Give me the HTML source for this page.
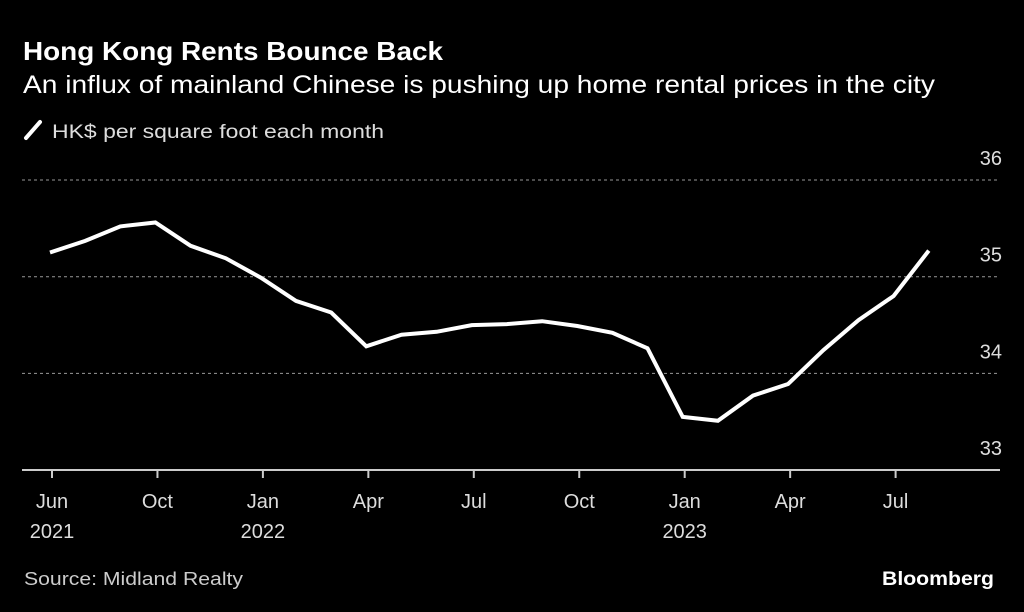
<!DOCTYPE html>
<html><head><meta charset="utf-8"><style>
html,body{margin:0;padding:0;background:#000;}
svg{display:block;font-family:"Liberation Sans",sans-serif;}
</style></head><body>
<svg width="1024" height="612" viewBox="0 0 1024 612">
<rect x="0" y="0" width="1024" height="612" fill="#000"/>
<text x="23" y="60" fill="#fff" font-size="26" font-weight="bold" textLength="420" lengthAdjust="spacingAndGlyphs">Hong Kong Rents Bounce Back</text>
<text x="23" y="93" fill="#fff" font-size="25" textLength="912" lengthAdjust="spacingAndGlyphs">An influx of mainland Chinese is pushing up home rental prices in the city</text>
<line x1="26" y1="138" x2="40" y2="122" stroke="#fff" stroke-width="4" stroke-linecap="round"/>
<text x="52" y="138" fill="#ddd" font-size="19" textLength="332" lengthAdjust="spacingAndGlyphs">HK$ per square foot each month</text>
<g id="grid"></g>
<g id="ylabels"></g>
<g id="xaxis"></g>
<path id="line" fill="none" stroke="#fff" stroke-width="4" stroke-linejoin="miter"/>
<text x="24" y="585" fill="#ccc" font-size="18" textLength="219" lengthAdjust="spacingAndGlyphs">Source: Midland Realty</text>
<text x="994" y="585" fill="#fff" font-size="19" font-weight="bold" text-anchor="end" textLength="112" lengthAdjust="spacingAndGlyphs">Bloomberg</text>
</svg>
<script>
const values=[35.25,35.37,35.52,35.56,35.32,35.19,34.99,34.75,34.63,34.28,34.40,34.43,34.50,34.51,34.54,34.49,34.42,34.26,33.55,33.51,33.77,33.89,34.24,34.55,34.80,35.27];
const tickIdx=[0,3,6,9,12,15,18,21,24];
const tickLabels=["Jun","Oct","Jan","Apr","Jul","Oct","Jan","Apr","Jul"];
const tickYears=["2021","","2022","","","","2023","",""];
const yTicks=[33,34,35,36];
const NS="http://www.w3.org/2000/svg";
function x(i){return 50+35.15*i;}
function y(v){return 180+(36-v)*96.7;}
function mk(t,a,p){const e=document.createElementNS(NS,t);for(const k in a)e.setAttribute(k,a[k]);p.appendChild(e);return e;}
const grid=document.getElementById('grid'),yl=document.getElementById('ylabels'),xa=document.getElementById('xaxis');
yTicks.forEach(v=>{
  if(v>33){const l=mk('line',{x1:22,x2:1000,y1:y(v),y2:y(v),stroke:'#999','stroke-width':1,'stroke-dasharray':'3,3'},grid);
  
  }
  const t=mk('text',{x:1002,y:y(v)-15,fill:'#ddd','font-size':20,'text-anchor':'end'},yl);t.textContent=v;
  
  
});
const ax=mk('line',{x1:22,x2:1000,y1:470,y2:470,stroke:'#ccc','stroke-width':2},xa);


tickIdx.forEach((idx,k)=>{
  const tx=x(idx)+2;
  const tk=mk('line',{x1:tx,x2:tx,y1:470,y2:478,stroke:'#ccc','stroke-width':2},xa);
  
  
  const t=mk('text',{x:tx,y:508,fill:'#ddd','font-size':20,'text-anchor':'middle'},xa);t.textContent=tickLabels[k];
  
  
  if(tickYears[k]){const t2=mk('text',{x:tx,y:538,fill:'#ddd','font-size':20,'text-anchor':'middle'},xa);t2.textContent=tickYears[k];
  
  }
});
document.getElementById('line').setAttribute('d',values.map((v,i)=>(i?'L':'M')+x(i).toFixed(1)+','+y(v).toFixed(1)).join(' '));
</script>
</body></html>
